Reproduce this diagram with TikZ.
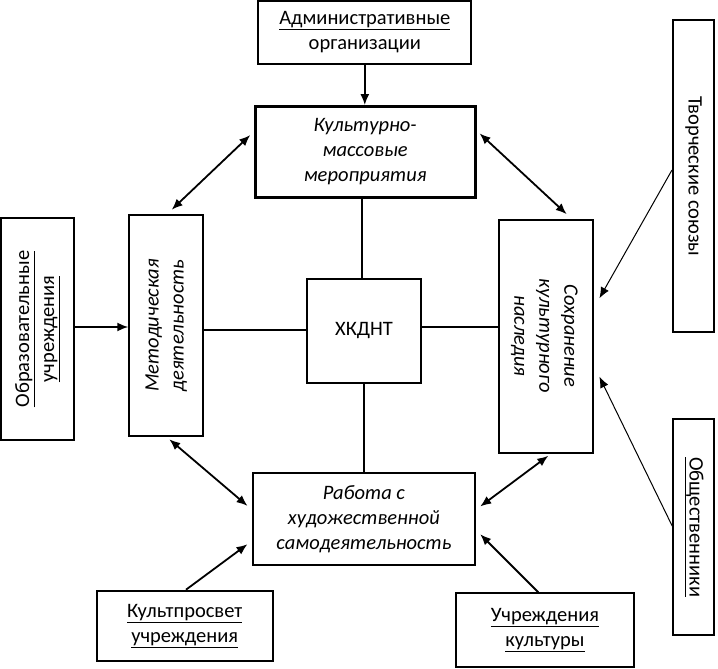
\documentclass[tikz,border=0pt]{standalone}
\usepackage{fontspec}
\setmainfont{Carlito}
\usepackage{tikz}
\usetikzlibrary{arrows.meta, positioning, calc}

\begin{document}
\begin{tikzpicture}[x=1pt,y=-1pt,
    blok/.style={rectangle,draw,line width=2pt,inner sep=0pt},
    txt/.style={align=center,font=\fontsize{20.5}{25}\selectfont},
    liniya/.style={line width=2pt},
    strel/.style={-{Latex[length=11pt,width=9pt]},line width=1.8pt},
    dvstrel/.style={{Latex[length=11pt,width=9pt]}-{Latex[length=11pt,width=9pt]},line width=1.8pt}]
    \useasboundingbox (0,0) rectangle (718,669);

    % Centr
    \node[blok,minimum width=114pt,minimum height=104pt] (hkdnt) at (364,331) {};
    \node[txt] (hkdnt-t) at (hkdnt) {ХКДНТ};

    % Verh
    \node[blok,minimum width=213pt,minimum height=63pt] (adm) at (364.8,32.3) {};
    \node[txt] (adm-t) at (adm) {\underline{Административные}\\организации};
    \node[blok,line width=2.8pt,minimum width=220pt,minimum height=91pt] (kmm) at (365.2,152) {};
    \node[txt] (kmm-t) at (kmm) {\itshape Культурно-\\\itshape массовые\\\itshape мероприятия};

    % Sleva
    \node[blok,minimum width=73pt,minimum height=222pt] (obr) at (37.4,329) {};
    \node[txt,rotate=90] (obr-t) at (obr) {\underline{Образовательные}\\\underline{учреждения}};
    \node[blok,minimum width=74pt,minimum height=221pt] (met) at (166.3,325.5) {};
    \node[txt,rotate=90] (met-t) at (met) {\itshape Методическая\\\itshape деятельность};

    % Sprava
    \node[blok,minimum width=94pt,minimum height=233pt] (sohr) at (546.4,336) {};
    \node[txt,rotate=-90] (sohr-t) at ($(sohr)+(-2,0)$) {\itshape Сохранение\\\itshape культурного\\\itshape наследия};
    \node[blok,minimum width=41pt,minimum height=312pt] (tvor) at (693.5,176.4) {};
    \node[txt,rotate=-90] (tvor-t) at (tvor) {Творческие союзы};
    \node[blok,minimum width=41pt,minimum height=216pt] (obsh) at (693.8,527.2) {};
    \node[txt,rotate=-90] (obsh-t) at (obsh) {\underline{Общественники}};

    % Niz
    \node[blok,minimum width=222pt,minimum height=92pt] (rab) at (363.9,518.9) {};
    \node[txt] (rab-t) at (rab) {\itshape Работа с\\\itshape художественной\\\itshape самодеятельность};
    \node[blok,minimum width=176pt,minimum height=70pt] (kpr) at (184.7,625.7) {};
    \node[txt] (kpr-t) at (kpr) {\underline{Культпросвет}\\\underline{учреждения}};
    \node[blok,minimum width=178pt,minimum height=74pt] (uchr) at (545,630.3) {};
    \node[txt] (uchr-t) at (uchr) {\underline{Учреждения}\\\underline{культуры}};

    % Tochki dlya linij
    \coordinate (kmm-v) at ($(kmm.south)+(-3,0)$);
    \coordinate (met-v) at ($(met.east)+(0,4)$);
    \coordinate (hkdnt-v) at ($(hkdnt.east)+(0,-4)$);
    \coordinate (obr-v) at ($(obr.east)+(0,-2)$);

    % Linii ot centra
    \draw[liniya] (kmm-v) -- (kmm-v |- hkdnt.north);
    \draw[liniya] (hkdnt.south) -- (hkdnt.south |- rab.north);
    \draw[liniya] (met-v) -- (met-v -| hkdnt.west);
    \draw[liniya] (hkdnt-v) -- (hkdnt-v -| sohr.west);

    % Strelki
    \draw[strel] (adm.south) -- (adm.south |- kmm.north);
    \draw[strel] (obr-v) -- (obr-v -| met.west);
    \draw[dvstrel] ($(kmm.north west)+(-3.6,30)$) -- ($(met.north)+(5.4,-4.3)$);
    \draw[dvstrel] ($(kmm.north east)+(3,28.3)$) -- ($(sohr.north)+(20.3,-4.3)$);
    \draw[dvstrel] ($(met.south)+(3,2.3)$) -- ($(rab.north west)+(-4.4,34)$);
    \draw[dvstrel] ($(sohr.south)+(1.9,2.3)$) -- ($(rab.north east)+(4.3,34.6)$);
    \draw[strel] ($(kpr.north)+(1.3,0)$) -- ($(rab.south west)+(-4.4,-21.7)$);
    \draw[strel] ($(uchr.north)+(-6.7,0)$) -- ($(rab.south east)+(4.3,-31.7)$);
    \draw[strel,line width=1pt] ($(tvor.west)+(0,-6.4)$) -- ($(sohr.east)+(5,-37.7)$);
    \draw[strel,line width=1pt] ($(obsh.west)+(0,-1)$) -- ($(sohr.east)+(5,40.7)$);
\end{tikzpicture}
\end{document}
